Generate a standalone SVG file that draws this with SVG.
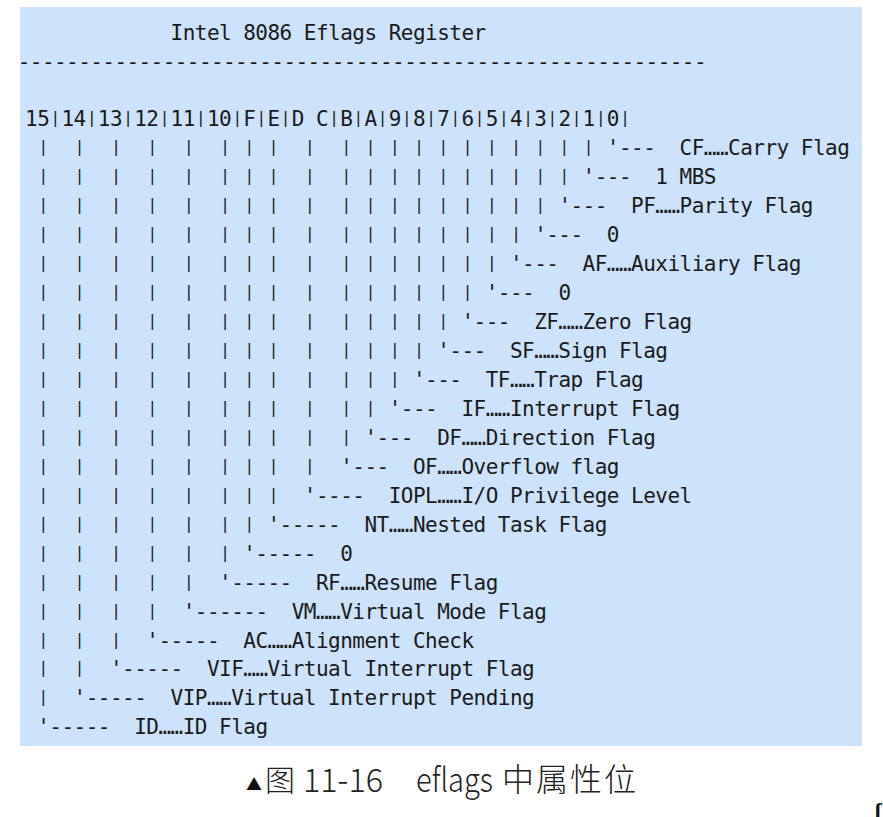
<svg xmlns="http://www.w3.org/2000/svg" width="883" height="817" viewBox="0 0 883 817">
<style>
.mono{font-family:"DejaVu Sans Mono","Liberation Mono",monospace;font-size:21px;letter-spacing:-0.523px;fill:#1a1a1a;white-space:pre}
.bar{font-family:"DejaVu Sans Mono","Liberation Mono",monospace;font-size:16px;fill:#1a1a1a;text-anchor:middle}
.cap{font-family:"Noto Sans CJK SC","Noto Sans",sans-serif;font-weight:300;fill:#222}
</style>
<rect id="panel" x="20" y="7" width="842" height="739" fill="#cde2fb"/>
<g id="title">
<text class="mono" x="170.54" y="40">Intel 8086 Eflags Register</text>
<text class="mono" x="17.8" y="69" style="letter-spacing:-0.57px">---------------------------------------------------------</text>
</g>
<g id="header">
<text class="mono" x="25.1" y="126.4" xml:space="preserve">15 14 13 12 11 10 F E D C B A 9 8 7 6 5 4 3 2 1 0</text>
<text class="bar" y="123.4" x="55.4 91.76 128.12 164.48 200.84 237.2 261.44 285.68 334.16 358.4 382.64 406.88 431.12 455.36 479.6 503.84 528.08 552.32 576.56 600.8 625.04">|||||||||||||||||||||</text>
</g>
<g id="bars">
<text class="bar" y="152.35" x="43.28 79.64 116 152.36 188.72 225.08 249.32 273.56 309.92 346.28 370.52 394.76 419 443.24 467.48 491.72 515.96 540.2 564.44 588.68">||||||||||||||||||||</text>
<text class="bar" y="181.3" x="43.28 79.64 116 152.36 188.72 225.08 249.32 273.56 309.92 346.28 370.52 394.76 419 443.24 467.48 491.72 515.96 540.2 564.44">|||||||||||||||||||</text>
<text class="bar" y="210.25" x="43.28 79.64 116 152.36 188.72 225.08 249.32 273.56 309.92 346.28 370.52 394.76 419 443.24 467.48 491.72 515.96 540.2">||||||||||||||||||</text>
<text class="bar" y="239.2" x="43.28 79.64 116 152.36 188.72 225.08 249.32 273.56 309.92 346.28 370.52 394.76 419 443.24 467.48 491.72 515.96">|||||||||||||||||</text>
<text class="bar" y="268.15" x="43.28 79.64 116 152.36 188.72 225.08 249.32 273.56 309.92 346.28 370.52 394.76 419 443.24 467.48 491.72">||||||||||||||||</text>
<text class="bar" y="297.1" x="43.28 79.64 116 152.36 188.72 225.08 249.32 273.56 309.92 346.28 370.52 394.76 419 443.24 467.48">|||||||||||||||</text>
<text class="bar" y="326.05" x="43.28 79.64 116 152.36 188.72 225.08 249.32 273.56 309.92 346.28 370.52 394.76 419 443.24">||||||||||||||</text>
<text class="bar" y="355" x="43.28 79.64 116 152.36 188.72 225.08 249.32 273.56 309.92 346.28 370.52 394.76 419">|||||||||||||</text>
<text class="bar" y="383.95" x="43.28 79.64 116 152.36 188.72 225.08 249.32 273.56 309.92 346.28 370.52 394.76">||||||||||||</text>
<text class="bar" y="412.9" x="43.28 79.64 116 152.36 188.72 225.08 249.32 273.56 309.92 346.28 370.52">|||||||||||</text>
<text class="bar" y="441.85" x="43.28 79.64 116 152.36 188.72 225.08 249.32 273.56 309.92 346.28">||||||||||</text>
<text class="bar" y="470.8" x="43.28 79.64 116 152.36 188.72 225.08 249.32 273.56 309.92">|||||||||</text>
<text class="bar" y="499.75" x="43.28 79.64 116 152.36 188.72 225.08 249.32 273.56">||||||||</text>
<text class="bar" y="528.7" x="43.28 79.64 116 152.36 188.72 225.08 249.32">|||||||</text>
<text class="bar" y="557.65" x="43.28 79.64 116 152.36 188.72 225.08">||||||</text>
<text class="bar" y="586.6" x="43.28 79.64 116 152.36 188.72">|||||</text>
<text class="bar" y="615.55" x="43.28 79.64 116 152.36">||||</text>
<text class="bar" y="644.5" x="43.28 79.64 116">|||</text>
<text class="bar" y="673.45" x="43.28 79.64">||</text>
<text class="bar" y="702.4" x="43.28">|</text>
</g>
<g id="labels">
<text id="cf" class="mono" x="606.86" y="155.35">'---  CF……Carry Flag</text>
<text id="b1" class="mono" x="582.62" y="184.3">'---  1 MBS</text>
<text id="pf" class="mono" x="558.38" y="213.25">'---  PF……Parity Flag</text>
<text id="b3" class="mono" x="534.14" y="242.2">'---  0</text>
<text id="af" class="mono" x="509.9" y="271.15">'---  AF……Auxiliary Flag</text>
<text id="b5" class="mono" x="485.66" y="300.1">'---  0</text>
<text id="zf" class="mono" x="461.42" y="329.05">'---  ZF……Zero Flag</text>
<text id="sf" class="mono" x="437.18" y="358">'---  SF……Sign Flag</text>
<text id="tf" class="mono" x="412.94" y="386.95">'---  TF……Trap Flag</text>
<text id="if" class="mono" x="388.7" y="415.9">'---  IF……Interrupt Flag</text>
<text id="df" class="mono" x="364.46" y="444.85">'---  DF……Direction Flag</text>
<text id="of" class="mono" x="340.22" y="473.8">'---  OF……Overflow flag</text>
<text id="iopl" class="mono" x="303.86" y="502.75">'----  IOPL……I/O Privilege Level</text>
<text id="nt" class="mono" x="267.5" y="531.7">'-----  NT……Nested Task Flag</text>
<text id="b15" class="mono" x="243.26" y="560.65">'-----  0</text>
<text id="rf" class="mono" x="219.02" y="589.6">'-----  RF……Resume Flag</text>
<text id="vm" class="mono" x="182.66" y="618.55">'------  VM……Virtual Mode Flag</text>
<text id="ac" class="mono" x="146.3" y="647.5">'-----  AC……Alignment Check</text>
<text id="vif" class="mono" x="109.94" y="676.45">'-----  VIF……Virtual Interrupt Flag</text>
<text id="vip" class="mono" x="73.58" y="705.4">'-----  VIP……Virtual Interrupt Pending</text>
<text id="id" class="mono" x="37.22" y="734.35">'-----  ID……ID Flag</text>
</g>
<g id="caption">
<text x="246.5" y="788" font-family="DejaVu Sans, sans-serif" font-size="17" fill="#111" textLength="15" lengthAdjust="spacingAndGlyphs">▲</text>
<text class="cap" x="265" y="791" font-size="30">图</text>
<text class="cap" x="303" y="792" font-size="33" textLength="80" lengthAdjust="spacingAndGlyphs">11-16</text>
<text class="cap" x="416" y="792" font-size="33" textLength="77" lengthAdjust="spacingAndGlyphs">eflags</text>
<text class="cap" x="502" y="791" font-size="32" textLength="134" lengthAdjust="spacing">中属性位</text>
</g>
<text x="875" y="818" font-family="Liberation Serif, serif" font-size="22" font-weight="bold" fill="#111">ſ</text>
</svg>
